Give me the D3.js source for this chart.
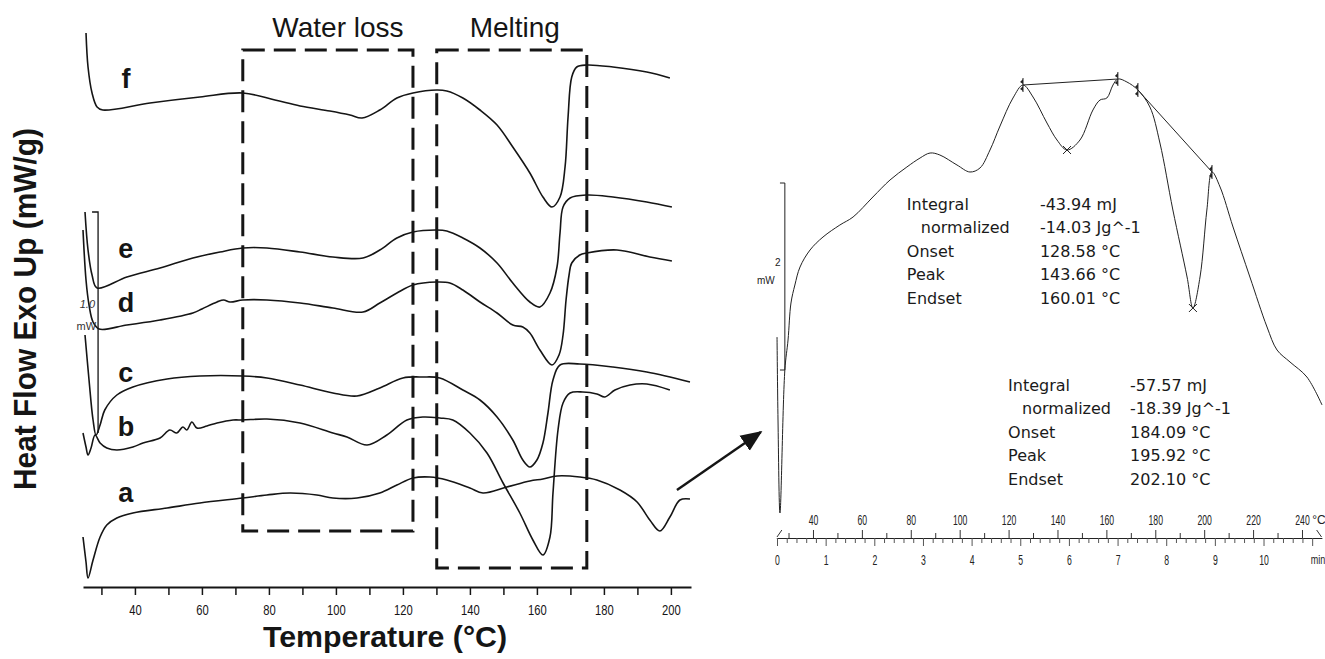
<!DOCTYPE html>
<html>
<head>
<meta charset="utf-8">
<script src="https://cdn.jsdelivr.net/npm/d3@7"></script>
<style>
  body { margin: 0; background: #fff; }
  svg { display: block; }
</style>
</head>
<body>
<svg width="1325" height="659"></svg>
<script>
// ---- left panel: DSC curves a-f, temperature (°C) vs heat flow (stacked, a.u.)
const curveA = [[24.5,0.49],[25.4,0.24],[26.0,0.08],[27.5,0.26],[29.6,0.49],[31.6,0.61],[34.6,0.68],[39.4,0.73],[49.6,0.78],[59.4,0.83],[72.2,0.88],[79.4,0.91],[86.3,0.93],[94.3,0.91],[99.1,0.88],[106.3,0.88],[113.1,0.93],[118.2,1.01],[123.0,1.08],[128.1,1.09],[133.1,1.06],[140.0,0.98],[143.9,0.93],[151.0,0.99],[157.9,1.05],[161.8,1.07],[166.0,1.10],[172.8,1.09],[177.9,1.06],[184.8,0.96],[189.9,0.84],[193.7,0.66],[196.7,0.55],[199.7,0.69],[202.7,0.86],[205.7,0.87]];
const curveB = [[24.5,1.53],[25.4,1.39],[26.0,1.31],[26.9,1.38],[28.1,1.51],[29.6,1.43],[31.6,1.38],[34.6,1.36],[39.4,1.39],[42.4,1.43],[47.5,1.48],[50.4,1.56],[52.5,1.53],[54.3,1.59],[55.5,1.56],[57.0,1.64],[58.5,1.58],[61.5,1.60],[64.5,1.63],[69.3,1.66],[72.2,1.66],[79.4,1.67],[89.3,1.63],[99.1,1.53],[103.3,1.49],[109.3,1.41],[115.2,1.51],[121.2,1.66],[126.0,1.69],[131.0,1.68],[134.9,1.66],[140.0,1.53],[145.1,1.33],[149.9,1.03],[154.9,0.73],[158.8,0.46],[161.8,0.31],[163.9,0.49],[164.8,0.93],[166.3,1.56],[167.8,1.83],[169.9,1.93],[173.7,1.94],[177.9,1.92],[180.3,1.89],[183.3,1.96],[187.8,2.01],[192.8,2.02],[199.7,1.96]];
const curveC = [[25.1,2.51],[26.3,2.06],[27.5,1.66],[28.4,1.51],[29.6,1.61],[31.0,1.76],[34.6,1.91],[39.4,1.99],[49.6,2.07],[59.4,2.10],[72.2,2.10],[79.4,2.08],[89.3,2.01],[99.1,1.93],[106.3,1.90],[113.1,1.98],[120.0,2.08],[126.0,2.09],[131.0,2.08],[137.9,1.96],[143.0,1.86],[148.1,1.69],[152.8,1.46],[155.8,1.26],[157.9,1.19],[160.0,1.26],[161.8,1.43],[163.3,1.73],[164.8,2.06],[166.9,2.21],[172.8,2.22],[182.7,2.19],[192.8,2.14],[205.7,2.04]];
const curveD = [[24.5,3.56],[25.4,3.06],[26.3,2.81],[27.5,2.64],[29.3,2.57],[37.6,2.61],[47.5,2.66],[57.3,2.73],[60.0,2.77],[64.5,2.84],[66.5,2.86],[68.4,2.84],[72.2,2.86],[79.4,2.86],[89.3,2.83],[99.1,2.78],[108.1,2.74],[113.1,2.83],[118.2,2.93],[123.0,3.01],[130.1,3.04],[134.0,3.03],[137.9,2.96],[143.0,2.84],[148.1,2.73],[152.8,2.61],[155.8,2.59],[157.9,2.53],[160.9,2.36],[164.5,2.21],[166.6,2.31],[167.8,2.51],[168.7,2.86],[169.6,3.11],[170.4,3.23],[172.8,3.31],[174.9,3.33],[183.9,3.36],[193.7,3.29],[200.3,3.25]];
const curveE = [[25.1,3.74],[26.0,3.36],[27.2,3.11],[28.7,2.98],[37.6,3.09],[47.5,3.18],[57.3,3.28],[65.4,3.34],[72.2,3.38],[79.4,3.38],[89.3,3.34],[99.1,3.29],[108.1,3.28],[113.1,3.36],[118.2,3.48],[123.0,3.54],[130.1,3.56],[133.1,3.55],[137.9,3.48],[143.0,3.38],[148.1,3.23],[152.8,3.03],[157.9,2.84],[160.9,2.79],[163.9,2.93],[166.0,3.19],[166.9,3.53],[167.8,3.79],[169.9,3.88],[174.9,3.91],[182.7,3.89],[192.8,3.84],[200.3,3.79]];
const curveF = [[25.4,5.53],[26.0,5.19],[27.2,4.93],[28.7,4.79],[30.4,4.76],[44.5,4.83],[59.4,4.89],[72.2,4.93],[81.8,4.86],[89.3,4.80],[98.2,4.75],[104.2,4.71],[107.8,4.68],[113.1,4.76],[118.2,4.88],[123.0,4.93],[130.1,4.96],[133.1,4.95],[137.9,4.88],[143.0,4.76],[148.1,4.61],[152.8,4.39],[157.9,4.13],[161.8,3.89],[164.5,3.79],[166.9,3.89],[168.4,4.19],[169.3,4.69],[170.4,5.09],[171.9,5.19],[174.9,5.21],[182.7,5.19],[192.8,5.14],[199.7,5.08]];
const curveNames = ["a", "b", "c", "d", "e", "f"];
const curveLabelLevel = [0.84, 1.50, 2.04, 2.74, 3.28, 4.98];
const tempTicks = [30, 40, 50, 60, 70, 80, 90, 100, 110, 120, 130, 140, 150, 160, 170, 180, 190, 200];
// dashed regions: [label, T from, T to, top, bottom]
const regions = [["Water loss", 72.2, 123.0, 5.36, 0.55], ["Melting", 130.1, 174.9, 5.36, 0.18]];
const regionLabelT = [100.6, 153.4];

// ---- right panel: single DSC run (temperature °C / time min)
const dscTrace = [[25.3,2.03],[25.7,1.20],[26.5,0.27],[28.5,1.70],[29.8,2.00],[31.0,2.37],[32.6,2.55],[34.7,2.73],[38.8,2.90],[44.1,3.03],[51.0,3.15],[56.4,3.23],[64.5,3.43],[71.5,3.60],[78.4,3.73],[83.8,3.82],[87.9,3.87],[91.9,3.85],[98.9,3.75],[104.2,3.68],[108.3,3.72],[112.4,3.90],[116.5,4.14],[121.8,4.42],[125.9,4.55],[130.0,4.43],[135.7,4.17],[139.8,4.00],[143.9,3.90],[149.2,4.00],[154.5,4.30],[157.4,4.40],[160.2,4.42],[162.7,4.55],[164.7,4.61],[168.4,4.58],[172.9,4.50],[177.8,4.33],[181.9,3.97],[187.2,3.30],[193.0,2.63],[195.4,2.32],[198.3,2.63],[201.1,3.30],[203.2,3.68],[206.5,3.53],[211.8,3.13],[218.7,2.63],[225.7,2.13],[229.8,1.90],[235.1,1.78],[242.0,1.63],[248.2,1.35]];
const baselines = [[[125.9,4.55],[164.7,4.61]], [[172.9,4.50],[203.2,3.68]]];
const peakMarks = [[143.9,3.90],[195.4,2.32]];
const results1 = [["Integral","-43.94 mJ"],["normalized","-14.03 Jg^-1"],["Onset","128.58 °C"],["Peak","143.66 °C"],["Endset","160.01 °C"]];
const results2 = [["Integral","-57.57 mJ"],["normalized","-18.39 Jg^-1"],["Onset","184.09 °C"],["Peak","195.92 °C"],["Endset","202.10 °C"]];
const rightTempTicks = [30, 40, 50, 60, 70, 80, 90, 100, 110, 120, 130, 140, 150, 160, 170, 180, 190, 200, 210, 220, 230, 240];
const timeTicks = d3.range(0, 56).map(i => +(i * 0.2).toFixed(1));

const svg = d3.select("svg");
const ink = "#151515";

// left scales
const x = d3.scaleLinear().domain([24.5, 206]).range([83, 691]);
const y = d3.scaleLinear().domain([0, 5.86]).range([586, 0]);
const line = d3.line().x(d => x(d[0])).y(d => y(d[1])).curve(d3.curveCatmullRom.alpha(0.5));

const leftCurves = [curveA, curveB, curveC, curveD, curveE, curveF];

// dashed boxes
svg.append("g").selectAll("rect")
    .data(regions)
    .enter().append("rect")
    .attr("x", d => x(d[1]))
    .attr("y", d => y(d[3]))
    .attr("width", d => x(d[2]) - x(d[1]))
    .attr("height", d => y(d[4]) - y(d[3]))
    .attr("fill", "none")
    .attr("stroke", ink)
    .attr("stroke-width", 3)
    .attr("stroke-dasharray", "22,9");

svg.append("g").selectAll("text")
    .data(regions)
    .enter().append("text")
    .attr("x", (d, i) => x(regionLabelT[i]))
    .attr("y", 37)
    .attr("text-anchor", "middle")
    .attr("font-family", "Liberation Sans, Arial, sans-serif")
    .attr("font-size", 28)
    .attr("fill", ink)
    .text(d => d[0]);

// curves
svg.append("g").selectAll("path")
    .data(leftCurves)
    .enter().append("path")
    .attr("d", line)
    .attr("fill", "none")
    .attr("stroke", ink)
    .attr("stroke-width", 1.6);

// curve letters
svg.append("g").selectAll("text")
    .data(curveNames)
    .enter().append("text")
    .attr("x", x(37.3))
    .attr("y", (d, i) => y(curveLabelLevel[i]))
    .attr("text-anchor", "middle")
    .attr("font-family", "Liberation Sans, Arial, sans-serif")
    .attr("font-weight", "bold")
    .attr("font-size", 27)
    .attr("fill", ink)
    .text(d => d);

// 1.0 mW scale bar
svg.append("path")
    .attr("d", `M${x(27.2)},${y(3.74)}H${x(29.0)}V${y(1.53)}`)
    .attr("fill", "none").attr("stroke", ink).attr("stroke-width", 1.3);
svg.append("text").attr("x", x(28.1)).attr("y", y(2.78))
    .attr("text-anchor", "end").attr("font-family", "Liberation Sans Narrow, Liberation Sans, sans-serif")
    .attr("font-size", 11).attr("font-style", "italic").attr("fill", "#333").text("1.0");
svg.append("text").attr("x", x(28.4)).attr("y", y(2.56))
    .attr("text-anchor", "end").attr("font-family", "Liberation Sans Narrow, Liberation Sans, sans-serif")
    .attr("font-size", 11).attr("fill", "#333").text("mW");

// x axis
const gx = svg.append("g")
    .attr("transform", "translate(0,587)")
    .call(d3.axisBottom(x).tickValues(tempTicks).tickSize(8).tickSizeOuter(0)
        .tickFormat(d => d % 20 === 0 ? d : ""));
gx.select(".domain").attr("stroke", ink).attr("stroke-width", 2);
gx.selectAll(".tick line").attr("stroke", ink).attr("stroke-width", 1.5);
gx.selectAll(".tick text")
    .attr("y", 18)
    .attr("transform", "scale(0.8,1)")
    .attr("font-family", "Liberation Sans, Arial, sans-serif")
    .attr("font-size", 14)
    .attr("fill", ink);

svg.append("text")
    .attr("x", 385).attr("y", 647)
    .attr("text-anchor", "middle")
    .attr("font-family", "Liberation Sans, Arial, sans-serif")
    .attr("font-weight", "bold").attr("font-size", 30)
    .attr("textLength", 244).attr("lengthAdjust", "spacingAndGlyphs")
    .attr("fill", ink)
    .text("Temperature (°C)");

svg.append("text")
    .attr("transform", "translate(36,309) rotate(-90)")
    .attr("text-anchor", "middle")
    .attr("font-family", "Liberation Sans, Arial, sans-serif")
    .attr("font-weight", "bold").attr("font-size", 31)
    .attr("textLength", 362).attr("lengthAdjust", "spacingAndGlyphs")
    .attr("fill", ink)
    .text("Heat Flow Exo Up (mW/g)");

// ---- right panel scales
const xR = d3.scaleLinear().domain([25, 247]).range([776.3, 1319.1]);
const tR = d3.scaleLinear().domain([0, 11.2]).range([777, 1321.9]);
const yR = d3.scaleLinear().domain([0, 5.4]).range([540, 0]);
const lineR = d3.line().x(d => xR(d[0])).y(d => yR(d[1])).curve(d3.curveCatmullRom.alpha(0.5));

// arrow from left panel to right panel
svg.append("defs").append("marker")
    .attr("id", "head")
    .attr("viewBox", "0 -5 12 10")
    .attr("refX", 11).attr("refY", 0)
    .attr("markerWidth", 9).attr("markerHeight", 8)
    .attr("markerUnits", "strokeWidth")
    .attr("orient", "auto")
    .append("path")
    .attr("d", "M0,-5L12,0L0,5Z")
    .attr("fill", ink);
svg.append("line")
    .attr("x1", x(201.8)).attr("y1", y(0.96))
    .attr("x2", xR(18.7)).attr("y2", yR(1.08))
    .attr("stroke", ink).attr("stroke-width", 2.4)
    .attr("marker-end", "url(#head)");

// DSC trace
svg.append("path")
    .attr("d", lineR(dscTrace))
    .attr("fill", "none").attr("stroke", "#222").attr("stroke-width", 1);

// integration baselines
svg.append("g").selectAll("path")
    .data(baselines)
    .enter().append("path")
    .attr("d", d => d3.line().x(p => xR(p[0])).y(p => yR(p[1]))(d))
    .attr("fill", "none").attr("stroke", "#222").attr("stroke-width", 1);

// integration limit markers
const limits = baselines.flat();
const lim = svg.append("g").selectAll("g")
    .data(limits)
    .enter().append("g")
    .attr("transform", d => `translate(${xR(d[0])},${yR(d[1])})`);
lim.append("line").attr("y1", -7).attr("y2", 7).attr("stroke", "#222").attr("stroke-width", 1);
lim.append("path").attr("d", "M0,-6L-3,-3L0,-1Z M0,1L-3,4L0,6Z").attr("fill", "#222");

// peak crosses
svg.append("g").selectAll("path")
    .data(peakMarks)
    .enter().append("path")
    .attr("transform", d => `translate(${xR(d[0])},${yR(d[1])})`)
    .attr("d", "M-4,-4L4,4M-4,4L4,-4")
    .attr("stroke", "#222").attr("stroke-width", 1);

// 2 mW scale bar
svg.append("path")
    .attr("d", `M${xR(26.5)},${yR(3.57)}H${xR(28.5)}V${yR(1.70)}H${xR(26.5)}`)
    .attr("fill", "none").attr("stroke", "#222").attr("stroke-width", 1);
svg.append("text").attr("x", xR(25.6)).attr("y", yR(2.74))
    .attr("text-anchor", "middle").attr("font-family", "Liberation Sans Narrow, Liberation Sans, sans-serif")
    .attr("font-size", 10).attr("fill", "#222").text("2");
svg.append("text").attr("x", xR(20.7)).attr("y", yR(2.56))
    .attr("text-anchor", "middle").attr("font-family", "Liberation Sans Narrow, Liberation Sans, sans-serif")
    .attr("font-size", 10).attr("fill", "#222").text("mW");

// result tables
function table(rows, tLabel, tValue, vTop) {
    const g = svg.append("g")
        .attr("font-family", "DejaVu Sans, Verdana, sans-serif")
        .attr("font-size", 16)
        .attr("fill", "#1a1a1a");
    g.selectAll("text.lab")
        .data(rows)
        .enter().append("text")
        .attr("class", "lab")
        .attr("x", (d, i) => xR(tLabel) + (i === 1 ? 14 : 0))
        .attr("y", (d, i) => yR(vTop) + i * 23.4)
        .text(d => d[0]);
    g.selectAll("text.val")
        .data(rows)
        .enter().append("text")
        .attr("class", "val")
        .attr("x", xR(tValue))
        .attr("y", (d, i) => yR(vTop) + i * 23.4)
        .text(d => d[1]);
}
table(results1, 78.4, 132.8, 3.30);
table(results2, 119.8, 169.7, 1.49);

// temperature axis (top) and time axis (bottom)
const gT = svg.append("g")
    .attr("transform", "translate(0,538)")
    .call(d3.axisTop(xR).tickValues(rightTempTicks).tickSize(8).tickSizeOuter(0)
        .tickFormat(d => d % 20 === 0 ? d : ""));
gT.select(".domain").attr("stroke", "#222");
gT.selectAll(".tick line").attr("stroke", "#333")
    .attr("y2", d => d % 20 === 0 ? -8 : -5);
gT.selectAll(".tick text")
    .attr("y", -13)
    .attr("transform", "scale(0.62,1)")
    .attr("font-family", "Liberation Sans, Arial, sans-serif")
    .attr("font-size", 14)
    .attr("fill", "#222");

const gTime = svg.append("g")
    .attr("transform", "translate(0,538)")
    .call(d3.axisBottom(tR).tickValues(timeTicks).tickSize(5).tickSizeOuter(0)
        .tickFormat(d => Number.isInteger(d) && d <= 10 ? d : ""));
gTime.select(".domain").attr("stroke", "#222");
gTime.selectAll(".tick line").attr("stroke", "#555")
    .attr("y2", d => Number.isInteger(d) ? 8 : 5);
gTime.selectAll(".tick text")
    .attr("y", 17)
    .attr("transform", "scale(0.62,1)")
    .attr("font-family", "Liberation Sans, Arial, sans-serif")
    .attr("font-size", 14)
    .attr("fill", "#222");

// axis units and break marks
svg.append("text").attr("x", 1319).attr("y", 524).attr("text-anchor", "middle")
    .attr("font-family", "Liberation Sans Narrow, Liberation Sans, sans-serif")
    .attr("font-size", 12).attr("fill", "#222").text("°C");
svg.append("text").attr("x", 1318).attr("y", 564).attr("text-anchor", "middle")
    .attr("font-family", "Liberation Sans Narrow, Liberation Sans, sans-serif")
    .attr("font-size", 12).attr("transform", "translate(1318,0) scale(0.75,1) translate(-1318,0)")
    .attr("fill", "#222").text("min");
svg.append("path")
    .attr("d", `M${tR(0)},537L${tR(0.1)},530M${xR(246)},530L${xR(248)},537`)
    .attr("stroke", "#333").attr("stroke-width", 1);
</script>
</body>
</html>
